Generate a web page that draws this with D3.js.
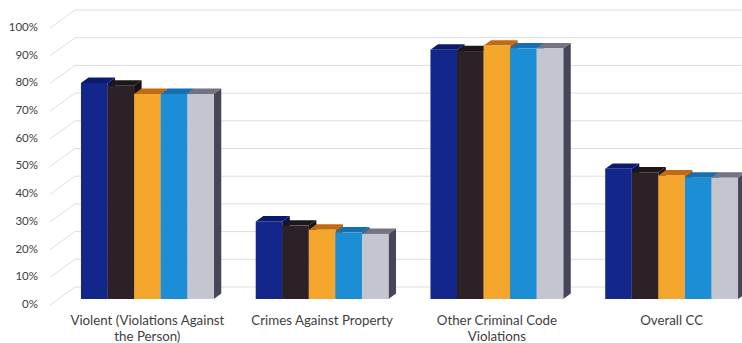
<!DOCTYPE html>
<html>
<head>
<meta charset="utf-8">
<script src="https://cdn.jsdelivr.net/npm/d3@7"></script>
<style>
  html, body { margin: 0; padding: 0; background: #ffffff; }
  svg { display: block; }
  text { font-family: Lato, "Open Sans", sans-serif; fill: #404040; }
</style>
</head>
<body>
<svg id="chart" width="742" height="343"></svg>
<script>
// ---- data ----
const categories = [
  ["Violent (Violations Against", "the Person)"],
  ["Crimes Against Property"],
  ["Other Criminal Code", "Violations"],
  ["Overall CC"]
];
const seriesNames = ["S1", "S2", "S3", "S4", "S5"];
const series1 = [78.0, 28.0, 90.0, 47.0];
const series2 = [77.0, 26.5, 89.5, 45.7];
const series3 = [74.0, 25.0, 91.5, 44.6];
const series4 = [74.0, 24.0, 90.5, 43.8];
const series5 = [74.0, 23.5, 90.5, 43.8];
const seriesValues = [series1, series2, series3, series4, series5];
const tickValues = [0, 10, 20, 30, 40, 50, 60, 70, 80, 90, 100];
const tickLabels = ["0%", "10%", "20%", "30%", "40%", "50%", "60%", "70%", "80%", "90%", "100%"];

// ---- styles ----
const frontColors = ["#13268c", "#2b2126", "#f4a52c", "#1b8ed6", "#c3c5cf"];
const topColors   = ["#0c1a6c", "#1d1719", "#c06a12", "#166fb0", "#737384"];
const sideColors  = ["#08124f", "#151113", "#a65a0c", "#105a90", "#464658"];

const svg = d3.select("#chart");

// geometry
const H = 277;
const y = d3.scaleLinear().domain([0, 100]).range([H, 0]);
const frontBase = 28;
const backBase = 10;
const barBase = 22;
const wallX0 = 50, wallX1 = 75, wallRight = 742;
const depthDx = 7.5, depthDy = -5.4;

const x0 = d3.scaleBand().domain(d3.range(categories.length))
  .range([60, 60 + 4 * 174.75]).paddingInner(0.24).paddingOuter(0.12);
const x1 = d3.scaleBand().domain(d3.range(seriesNames.length))
  .range([0, x0.bandwidth()]).padding(0);

const grid = svg.append("g");
tickValues.forEach(v => {
  grid.append("line")
    .attr("x1", wallX1).attr("x2", wallRight)
    .attr("y1", backBase + y(v)).attr("y2", backBase + y(v))
    .attr("stroke", "#dedede").attr("stroke-width", 1);
  grid.append("line")
    .attr("x1", wallX0).attr("y1", frontBase + y(v))
    .attr("x2", wallX1).attr("y2", backBase + y(v))
    .attr("stroke", "#e0e0e0").attr("stroke-width", 1);
});

svg.append("g").selectAll("text").data(tickValues).join("text")
  .attr("x", 38).attr("y", d => frontBase + y(d))
  .attr("text-anchor", "end").attr("dominant-baseline", "middle")
  .style("font-size", "11.5px")
  .text((d, i) => tickLabels[i]);

const bars = svg.append("g");
categories.forEach((c, ci) => {
  seriesValues.forEach((vals, si) => {
    const v = vals[ci];
    const xl = x0(ci) + x1(si);
    const xr = xl + x1.bandwidth();
    const yt = barBase + y(v);
    const yb = barBase + y(0);
    bars.append("path")
      .attr("d", `M${xr},${yt} L${xr + depthDx},${yt + depthDy} L${xr + depthDx},${yb + depthDy} L${xr},${yb} Z`)
      .attr("fill", sideColors[si]);
    bars.append("path")
      .attr("d", `M${xl},${yt} L${xl + depthDx},${yt + depthDy} L${xr + depthDx},${yt + depthDy} L${xr},${yt} Z`)
      .attr("fill", topColors[si]);
    bars.append("rect")
      .attr("x", xl).attr("y", yt)
      .attr("width", x1.bandwidth()).attr("height", yb - yt)
      .attr("fill", frontColors[si]);
  });
});

const lab = svg.append("g");
categories.forEach((lines, ci) => {
  const cx = x0(ci) + x0.bandwidth() / 2;
  lines.forEach((t, li) => {
    lab.append("text")
      .attr("x", cx).attr("y", 322 + li * 15.5)
      .attr("text-anchor", "middle").attr("dominant-baseline", "middle")
      .style("font-size", "13.3px")
      .text(t);
  });
});
</script>
</body>
</html>
